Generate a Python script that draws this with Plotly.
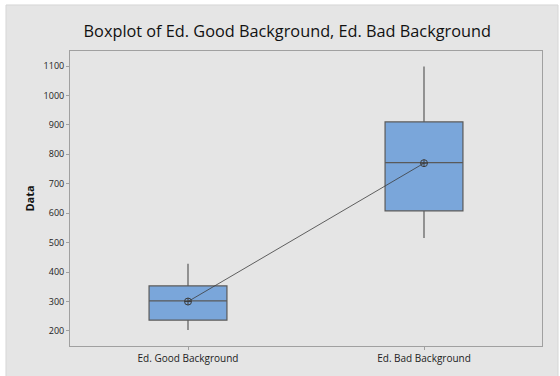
import plotly.graph_objects as go

categories = ["Ed. Good Background", "Ed. Bad Background"]
lower_whisker = [203, 516]
q1_vals = [237, 608]
median_vals = [302, 772]
q3_vals = [353, 910]
upper_whisker = [428, 1098]
mean_vals = [300, 770]
y_ticks = [200, 300, 400, 500, 600, 700, 800, 900, 1000, 1100]

FONT = "Open Sans"
fig = go.Figure()

for i, c in enumerate(categories):
    fig.add_trace(go.Box(
        x=[c], q1=[q1_vals[i]], median=[median_vals[i]], q3=[q3_vals[i]],
        lowerfence=[lower_whisker[i]], upperfence=[upper_whisker[i]],
        width=0.33, whiskerwidth=0,
        fillcolor="#7aa6da", line=dict(color="#5a5a5a", width=1.2),
        showlegend=False, hoverinfo="skip",
    ))

fig.add_trace(go.Scatter(
    x=categories, y=mean_vals, mode="lines+markers",
    line=dict(color="#3c3c3c", width=0.8),
    marker=dict(symbol="circle-cross-open", size=7, color="#3c3c3c", line=dict(width=1)),
    showlegend=False, hoverinfo="skip",
))

fig.update_layout(
    width=560, height=376,
    margin=dict(l=70, r=18, t=51, b=30),
    paper_bgcolor="white", plot_bgcolor="white",
    title=dict(text="Boxplot of Ed. Good Background, Ed. Bad Background",
               x=0.513, xanchor="center", y=0.918, yanchor="middle",
               font=dict(family=FONT, size=16.3, color="#111111")),
    shapes=[dict(type="rect", xref="paper", yref="paper",
                 x0=-0.1356, x1=1.0339, y0=-0.2, y1=1.156,
                 fillcolor="#e5e5e5", line=dict(color="#d6d6d6", width=1),
                 layer="below")],
    xaxis=dict(type="category", range=[-0.5, 1.5], showgrid=False,
               showline=True, linecolor="#a0a0a0", linewidth=1, mirror=True,
               ticks="outside", ticklen=3, tickcolor="#a0a0a0",
               tickfont=dict(family=FONT, size=10, color="#222222"), zeroline=False),
    yaxis=dict(range=[149, 1151], tickvals=y_ticks, showgrid=False,
               showline=True, linecolor="#a0a0a0", linewidth=1, mirror=True,
               ticks="outside", ticklen=3, tickcolor="#a0a0a0",
               tickfont=dict(family=FONT, size=9, color="#222222"), zeroline=False,
               title=dict(text="<b>Data</b>", font=dict(family=FONT, size=11, color="#111111"),
                          standoff=6)),
)

fig.write_html("out.html")
